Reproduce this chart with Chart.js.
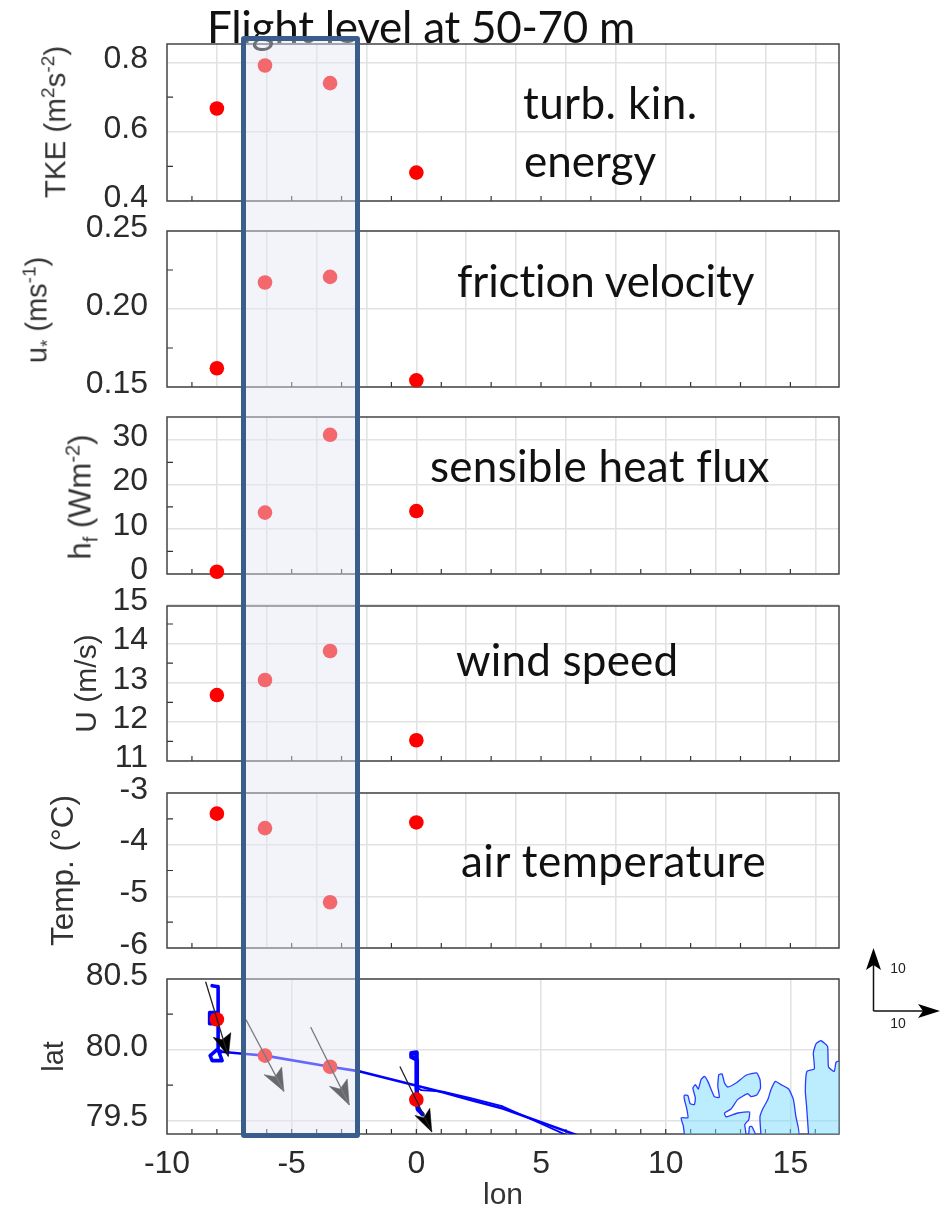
<!DOCTYPE html>
<html><head><meta charset="utf-8">
<script src="https://cdn.jsdelivr.net/npm/chart.js@4"></script>
<style>
html,body{margin:0;padding:0;background:#fff;width:941px;height:1209px;overflow:hidden}
canvas{position:absolute;left:0;filter:blur(.45px)}
.note{position:absolute;font-family:Lato,"Open Sans",sans-serif;font-size:44px;line-height:1;color:#111;white-space:nowrap;z-index:6;font-variant-ligatures:none}
.ytitle{position:absolute;font-family:"Liberation Sans",Arial,sans-serif;color:#333;white-space:nowrap;transform:translate(-50%,-50%) rotate(-90deg);line-height:1;filter:blur(.45px)}
.ytitle sup,.ytitle sub{font-size:65%;line-height:0}
#band{position:absolute;left:241px;top:36px;width:119px;height:1102px;box-sizing:border-box;border:5px solid #3a5d8c;border-radius:3px;background:rgba(226,230,242,.45);z-index:10}
#key{position:absolute;left:860px;top:940px;z-index:5;filter:blur(.4px)}
</style></head><body>
<div class="note" style="left:207px;top:4px;letter-spacing:-.27px">Flight level at 50-70 m</div>
<div class="note" style="left:523px;top:80px;letter-spacing:.4px">turb. kin.</div>
<div class="note" style="left:524px;top:138px">energy</div>
<div class="note" style="left:457px;top:258px;letter-spacing:-.15px">friction velocity</div>
<div class="note" style="left:430px;top:443px;letter-spacing:.28px">sensible heat flux</div>
<div class="note" style="left:456px;top:637px;letter-spacing:.2px">wind speed</div>
<div class="note" style="left:461px;top:838px;letter-spacing:.5px">air temperature</div>
<div class="ytitle" style="left:55px;top:122px;font-size:29.5px">TKE (m<sup>2</sup>s<sup>-2</sup>)</div>
<div class="ytitle" style="left:37px;top:310px;font-size:29px">u<sub>*</sub> (ms<sup>-1</sup>)</div>
<div class="ytitle" style="left:80px;top:497px;font-size:31px">h<sub>f</sub> (Wm<sup>-2</sup>)</div>
<div id="band"></div>
<svg id="key" width="81" height="95" font-family="Liberation Sans, sans-serif" font-size="14" fill="#222">
<path d="M13.5 71V14M13.5 71H70" stroke="#111" stroke-width="1.5" fill="none"/>
<path d="M13.5 8L21 30L13.5 25L6 30Z" fill="#000"/>
<path d="M80 71L58 64L63 71L58 78Z" fill="#000"/>
<text x="38" y="33" text-anchor="middle">10</text>
<text x="38" y="88" text-anchor="middle">10</text>
</svg>
<script>
// Flight-leg means, one value per leg
const legLon = [-8, -6.07, -3.46, 0];
const tkeValues = [0.667, 0.791, 0.74, 0.482];
const ustarValues = [0.162, 0.217, 0.2206, 0.1543];
const heatValues = [0.4, 13.7, 31.2, 14.05];
const windValues = [12.685, 13.07, 13.81, 11.53];
const tempValues = [-3.40, -3.68, -5.115, -3.57];
const latValues = [80.213, 79.958, 79.88, 79.648];

// Tick lists
const evenLon = [-8,-6,-4,-2,0,2,4,6,8,10,12,14,16];
const oddLon = [-9,-7,-5,-3,-1,1,3,5,7,9,11,13,15];
const fiveLon = [-10,-5,0,5,10,15];
const allLon = [-9,-8,-7,-6,-5,-4,-3,-2,-1,0,1,2,3,4,5,6,7,8,9,10,11,12,13,14,15,16];
const tkeTicks = [0.4,0.6,0.8], tkeMinor = [0.5,0.7];
const ustarTicks = [0.15,0.20,0.25], ustarMinor = [0.175,0.225];
const heatTicks = [0,10,20,30], heatMinor = [5,15,25];
const windTicks = [11,12,13,14,15], windMinor = [11.5,12.5,13.5,14.5];
const tempTicks = [-6,-5,-4,-3], tempMinor = [-5.5,-4.5,-3.5];
const latTicks = [79.5,80,80.5], latMinor = [79.75,80.25];

// Flight track, lon/lat
const trackWest = [[-8.19,80.451],[-7.95,80.444],[-7.95,80.261],[-8.29,80.261],[-8.29,80.183],[-7.95,80.183],[-7.95,80.0],[-7.79,79.923],[-8.19,79.923],[-8.27,79.958],[-7.99,80.0],[-7.83,79.986]];
const trackOut = [[-7.83,79.986],[-6.83,79.97],[-6.07,79.958],[-3.46,79.88],[-2.26,79.847],[-0.14,79.753],[1.06,79.70],[2.14,79.648],[3.47,79.585],[6.42,79.40]];
const trackBack = [[6.0,79.40],[3.47,79.60],[2.14,79.66],[1.06,79.705],[0.2,79.715],[0.05,79.73]];
const trackEast = [[0.01,79.72],[0.01,79.98],[-0.2,79.975],[-0.2,79.95],[0.01,79.93],[0.02,79.62],[0.06,79.58],[0.25,79.545]];

// Wind arrows: shaft tail, tip, then head barb, notch, barb
const arrowTails = [[-8.45,80.479],[-6.83,80.211],[-4.24,80.16],[-0.66,79.882]];
const arrowTips = [[-7.54,79.953],[-5.31,79.706],[-2.69,79.611],[0.62,79.42]];
const arrowBarbA = [[-8.15,80.087],[-6.11,79.824],[-3.49,79.742],[-0.06,79.537]];
const arrowNotch = [[-7.79,80.07],[-5.67,79.81],[-3.06,79.723],[0.30,79.521]];
const arrowBarbB = [[-7.44,80.12],[-5.40,79.878],[-2.77,79.794],[0.54,79.587]];

// Svalbard coastline, lon/lat
const landA = [[10.75,79.40],[10.71,79.46],[10.62,79.52],[10.89,79.52],[10.85,79.58],[10.75,79.65],[10.75,79.68],[10.89,79.676],[10.98,79.62],[11.15,79.613],[11.19,79.66],[11.09,79.73],[11.19,79.754],[11.31,79.723],[11.42,79.79],[11.55,79.812],[11.69,79.777],[11.95,79.67],[12.15,79.664],[12.09,79.742],[12.13,79.824],[12.26,79.829],[12.36,79.765],[12.49,79.737],[12.82,79.765],[13.22,79.82],[13.65,79.836],[13.78,79.79],[13.80,79.73],[13.65,79.68],[13.42,79.67],[13.29,79.69],[12.89,79.65],[12.62,79.582],[12.36,79.554],[12.42,79.526],[12.89,79.554],[13.36,79.561],[13.33,79.507],[13.17,79.472],[13.20,79.40],[10.75,79.40]];
const landB = [[13.33,79.40],[13.36,79.455],[13.45,79.46],[13.60,79.40],[13.33,79.40]];
const landC = [[13.82,79.40],[13.78,79.526],[13.89,79.582],[14.10,79.65],[14.22,79.718],[14.40,79.777],[14.62,79.754],[14.93,79.723],[15.12,79.65],[15.22,79.53],[15.33,79.40],[13.82,79.40]];
const landD = [[15.73,79.40],[15.65,79.601],[15.60,79.707],[15.66,79.847],[15.96,79.864],[15.92,79.977],[16.03,80.042],[16.23,80.063],[16.49,80.023],[16.53,79.878],[16.76,79.847],[16.83,79.911],[16.99,79.918],[16.99,79.40],[15.73,79.40]];

const FONT = '"Liberation Sans", Arial, sans-serif';
const toXY = a => a.map(p => ({x:p[0], y:p[1]}));
const legPoints = vals => legLon.map((x,i) => ({x, y:vals[i]}));
const redDots = vals => ({data:legPoints(vals), backgroundColor:'#ff0000', borderWidth:0, pointRadius:7.3, clip:false, order:1});

const framePlugin = {
  id:'frame',
  beforeDatasetsDraw(chart, args, o){
    const {ctx, chartArea:a, scales:{x,y}} = chart;
    ctx.save();
    ctx.strokeStyle = '#333'; ctx.lineWidth = 1.2; ctx.beginPath();
    o.minorX.forEach(v => { const p = x.getPixelForValue(v); ctx.moveTo(p,a.bottom); ctx.lineTo(p,a.bottom-5); });
    o.minorY.forEach(v => { const p = y.getPixelForValue(v); ctx.moveTo(a.left,p); ctx.lineTo(a.left+6,p); });
    ctx.stroke();
    ctx.strokeStyle = '#444'; ctx.lineWidth = 1.5;
    ctx.strokeRect(a.left,a.top,a.right-a.left,a.bottom-a.top);
    ctx.restore();
  }
};

function panel(cfg){
  const pad = 44, low = cfg.last ? 0 : 44;
  const bottomRoom = cfg.last ? 1209-cfg.bottom : 0;
  const c = document.createElement('canvas');
  const H = cfg.bottom-cfg.top+pad+low+bottomRoom;
  c.width = 850; c.height = H; c.style.top = (cfg.top-pad)+'px';
  c.style.width='850px'; c.style.height=H+'px';
  document.body.appendChild(c);
  new Chart(c,{
    type:'scatter', plugins:[framePlugin],
    data:{datasets:cfg.datasets},
    options:{
      responsive:false, animation:false, devicePixelRatio:1,
      layout:{autoPadding:false,padding:{top:pad,bottom:low,right:11,left:0}},
      plugins:{legend:{display:false},tooltip:{enabled:false},frame:{minorX:cfg.minorX,minorY:cfg.minorY}},
      scales:{
        x:{type:'linear',min:-10,max:16.95,
          afterBuildTicks(s){s.ticks=cfg.gridX.map(v=>({value:v}));},
          afterFit(s){ s.height = cfg.last ? bottomRoom : 0; },
          grid:{color:'#e2e2e2',lineWidth:1.6,drawTicks:false},
          border:{display:false},
          title:cfg.last?{display:true,text:'lon',font:{family:FONT,size:30},color:'#333',padding:{top:0,bottom:-5}}:{display:false},
          ticks:{display:!!cfg.last,autoSkip:false,maxRotation:0,padding:11,color:'#2b2b2b',font:{family:FONT,size:32},callback:v=>String(v)}
        },
        y:{type:'linear',min:cfg.min,max:cfg.max,
          afterBuildTicks(s){s.ticks=cfg.ticks.map(v=>({value:v}));},
          afterFit(s){s.width=167;},
          grid:{color:'#e2e2e2',lineWidth:1.6,drawTicks:false},
          border:{display:false},
          title:cfg.title?{display:true,text:cfg.title,font:{family:FONT,size:cfg.titleSize},color:'#333',padding:{top:cfg.titlePad,bottom:0}}:{display:false},
          ticks:{autoSkip:false,padding:19,labelOffset:-3,color:'#2b2b2b',font:{family:FONT,size:32},callback:v=>v.toFixed(cfg.dec)}
        }
      }
    }
  });
}

const common = {gridX:evenLon, minorX:oddLon};
panel({...common, top:44,bottom:201,min:0.4,max:0.853,ticks:tkeTicks,minorY:tkeMinor,dec:1,datasets:[redDots(tkeValues)]});
panel({...common, top:231,bottom:387,min:0.15,max:0.25,ticks:ustarTicks,minorY:ustarMinor,dec:2,datasets:[redDots(ustarValues)]});
panel({...common, top:417,bottom:574,min:-0.1,max:35.2,ticks:heatTicks,minorY:heatMinor,dec:0,datasets:[redDots(heatValues)]});
panel({...common, top:606,bottom:761,min:11,max:14.96,ticks:windTicks,minorY:windMinor,dec:0,title:'U (m/s)',titleSize:30,titlePad:70,datasets:[redDots(windValues)]});
panel({...common, top:793,bottom:948,min:-6,max:-3,ticks:tempTicks,minorY:tempMinor,dec:0,title:'Temp. (°C)',titleSize:31.5,titlePad:45,datasets:[redDots(tempValues)]});

const land = pts => ({data:toXY(pts),showLine:true,pointRadius:0,borderColor:'#2a3cff',borderWidth:1.3,backgroundColor:'rgba(120,220,255,.5)',fill:'shape',tension:0.15,order:5});
const track = (pts,w) => ({data:toXY(pts),showLine:true,pointRadius:0,borderColor:'#0000ff',borderWidth:w,borderJoinStyle:'round',borderCapStyle:'round',order:4});
const shaft = i => ({data:toXY([arrowTails[i],arrowTips[i]]),showLine:true,pointRadius:0,borderColor:'#222',borderWidth:1.3,clip:false,order:0});
const head = i => ({data:toXY([arrowTips[i],arrowBarbA[i],arrowNotch[i],arrowBarbB[i],arrowTips[i]]),showLine:true,pointRadius:0,borderColor:'#000',borderWidth:0.5,backgroundColor:'#000',fill:'shape',clip:false,order:0});
panel({gridX:fiveLon,minorX:allLon,last:true,top:979,bottom:1134,min:79.406,max:80.498,ticks:latTicks,minorY:latMinor,dec:1,title:'lat',titleSize:29,titlePad:38,
  datasets:[land(landA),land(landB),land(landC),land(landD),
    track(trackWest,3.6),track(trackOut,2.6),track(trackBack,1.8),track(trackEast,4.4),
    redDots(latValues),
    shaft(0),shaft(1),shaft(2),shaft(3),head(0),head(1),head(2),head(3)]});
</script>
</body></html>
